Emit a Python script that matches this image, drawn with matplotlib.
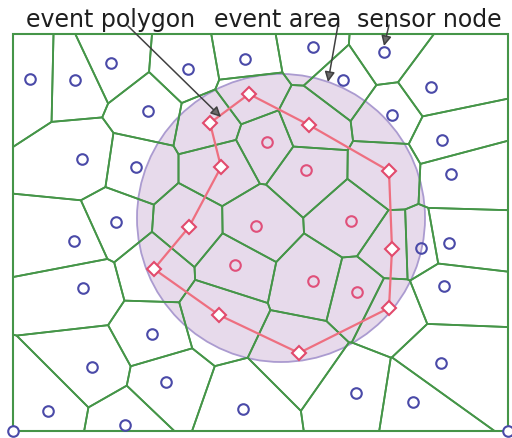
import numpy as np
import matplotlib.pyplot as plt
from matplotlib.patches import Circle, Polygon

# ---------------- data (pixel-like coordinates, y downward) ----------------
frame_x = [13, 508]
frame_y = [35, 432]

blue_x = [30, 75, 111, 188, 245, 313, 384, 343, 431, 392, 442, 451, 148, 82, 136, 116,
          74, 83, 152, 92, 166, 48, 125, 243, 356, 413, 441, 444, 421, 449]
blue_y = [80, 81, 64, 70, 60, 48, 53, 81, 88, 116, 141, 175, 112, 160, 168, 223,
          242, 289, 335, 368, 383, 412, 426, 410, 394, 403, 364, 287, 249, 244]

corner_x = [13, 508]
corner_y = [432, 432]

pink_x = [267, 306, 256, 351, 235, 313, 357]
pink_y = [143, 171, 227, 222, 266, 282, 293]

poly_x = [249, 309, 389, 392, 389, 299, 219, 154, 189, 221, 210]
poly_y = [95, 126, 172, 250, 309, 354, 316, 270, 228, 168, 124]

area_cx, area_cy, area_r = 281, 219, 144

labels = ["event polygon", "event area", "sensor node"]
label_x = [26, 214, 357]
label_y = [27, 27, 27]
arrow_from = [(128, 27), (338, 26), (389, 26)]
arrow_to = [(221, 118), (328, 83), (384, 47)]

# ---------------- Voronoi by half-plane clipping ----------------
sites = np.array(list(zip(blue_x, blue_y)) + list(zip(pink_x, pink_y)) +
                 list(zip(poly_x, poly_y)), dtype=float)

def clip(poly, s, q):
    m = (s + q) / 2.0
    n = q - s
    out = []
    k = len(poly)
    for i in range(k):
        a = poly[i]
        b = poly[(i + 1) % k]
        da = np.dot(a - m, n)
        db = np.dot(b - m, n)
        if da <= 0:
            out.append(a)
        if da * db < 0:
            t = da / (da - db)
            out.append(a + t * (b - a))
    return out

box = [np.array([frame_x[0], frame_y[0]], float), np.array([frame_x[1], frame_y[0]], float),
       np.array([frame_x[1], frame_y[1]], float), np.array([frame_x[0], frame_y[1]], float)]

cells = []
for i, s in enumerate(sites):
    poly = list(box)
    for j, q in enumerate(sites):
        if i == j:
            continue
        poly = clip(poly, s, q)
        if not poly:
            break
    cells.append(np.array(poly))

# ---------------- drawing ----------------
fig = plt.figure(figsize=(5.12, 4.39), dpi=100)
ax = fig.add_axes([0, 0, 1, 1])
ax.set_xlim(0, 512)
ax.set_ylim(439, 0)
ax.axis('off')

green = '#459548'
ax.add_patch(Circle((area_cx, area_cy), area_r, facecolor='#e7daeb', edgecolor='#ab9bd0',
                    lw=1.3, zorder=1))

for c in cells:
    ax.add_patch(Polygon(c, closed=True, fill=False, edgecolor=green, lw=1.3, zorder=2,
                         joinstyle='round'))
ax.add_patch(Polygon(box, closed=True, fill=False, edgecolor=green, lw=1.5, zorder=2))

px = poly_x + [poly_x[0]]
py = poly_y + [poly_y[0]]
ax.plot(px, py, color='#ee6f80', lw=1.6, zorder=3)
ax.plot(poly_x, poly_y, 'D', ms=7.5, mfc='white', mec='#e24a6c', mew=1.5, zorder=4,
        linestyle='none')

ax.plot(blue_x, blue_y, 'o', ms=7.6, mfc='none', mec='#4a4aa8', mew=1.5, zorder=4,
        linestyle='none', clip_on=False)
ax.plot(corner_x, corner_y, 'o', ms=7.6, mfc='white', mec='#4a4aa8', mew=1.5, zorder=4,
        linestyle='none', clip_on=False)
ax.plot(pink_x, pink_y, 'o', ms=7.6, mfc='none', mec='#e0507a', mew=1.5, zorder=4,
        linestyle='none')

for t, x, y in zip(labels, label_x, label_y):
    ax.text(x, y, t, fontsize=17, family='DejaVu Sans', color='#1e1e1e',
            ha='left', va='baseline', zorder=6)

for (x0, y0), (x1, y1) in zip(arrow_from, arrow_to):
    ax.annotate('', xy=(x1, y1), xytext=(x0, y0),
                arrowprops=dict(arrowstyle='-|>', color='#404040', lw=1.1,
                                mutation_scale=15, shrinkA=0, shrinkB=0,
                                fc='#6a6a6a'), zorder=7)

fig.savefig('out.png', dpi=100)
